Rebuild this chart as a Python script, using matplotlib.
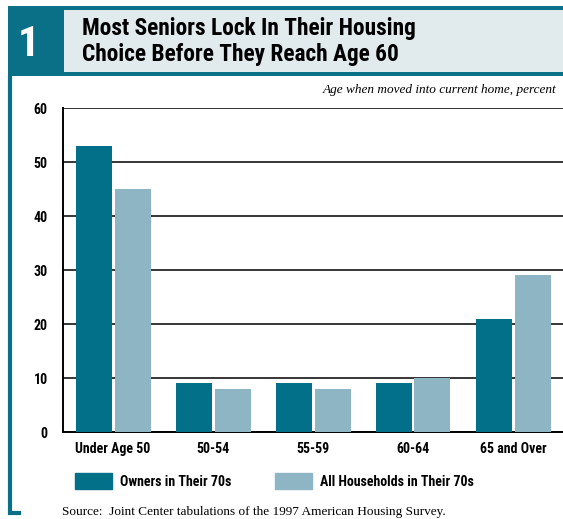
import numpy as np
import matplotlib.pyplot as plt
from matplotlib.patches import Rectangle, Patch
from matplotlib.lines import Line2D

categories = ["Under Age 50", "50-54", "55-59", "60-64", "65 and Over"]
owners_70s = [53, 9, 9, 9, 21]
all_hh_70s = [45, 8, 8, 10, 29]
series_names = ["Owners in Their 70s", "All Households in Their 70s"]
y_ticks = [0, 10, 20, 30, 40, 50, 60]

dark = "#03708A"
light = "#8DB5C3"
teal = "#0A7088"
cond = ["Roboto Condensed", "Liberation Sans Narrow", "Roboto", "DejaVu Sans"]
serif = ["Liberation Serif", "DejaVu Serif"]

fig = plt.figure(figsize=(5.63, 5.19), dpi=100)
W, H = 563.0, 519.0

def fx(px):
    return px / W

def fy(py):
    return 1 - py / H

# header frame
fig.add_artist(Rectangle((fx(8), fy(76)), fx(56), 70 / H, color=teal, lw=0, transform=fig.transFigure))
fig.add_artist(Rectangle((fx(64), fy(76)), fx(499), 70 / H, color=teal, lw=0, transform=fig.transFigure))
fig.add_artist(Rectangle((fx(64), fy(72)), fx(499), 62 / H, color="#E1EBED", lw=0, transform=fig.transFigure))
fig.add_artist(Line2D([fx(10), fx(10), fx(19)], [fy(76), fy(512.5), fy(512.5)], color=teal, lw=3,
                      solid_joinstyle="miter", transform=fig.transFigure))
fig.text(fx(29), fy(44), "1", color="white", fontsize=31, fontweight="bold", family=cond,
         ha="center", va="center")
fig.text(fx(82), fy(28), "Most Seniors Lock In Their Housing", fontsize=16.8, fontweight="heavy",
         family=cond, ha="left", va="center")
fig.text(fx(82), fy(55), "Choice Before They Reach Age 60", fontsize=16.8, fontweight="heavy",
         family=cond, ha="left", va="center")
fig.text(fx(556), fy(90), "Age when moved into current home, percent", fontsize=9.5,
         style="italic", family=serif, ha="right", va="center")

ax = fig.add_axes([fx(63), fy(432), fx(500), 324 / H])
x = np.arange(len(categories))
w = 0.36
ax.bar(x - 0.195, owners_70s, w, color=dark, zorder=3)
ax.bar(x + 0.195, all_hh_70s, w, color=light, zorder=3)
ax.set_xlim(-0.5, 4.5)
ax.set_ylim(0, 60)
ax.set_yticks(y_ticks)
ax.set_xticks(x)
ax.set_xticklabels(categories)
ax.yaxis.grid(True, color="black", lw=1.1, zorder=0)
ax.set_axisbelow(True)
for s in ["top", "right"]:
    ax.spines[s].set_visible(False)
for s in ["left", "bottom"]:
    ax.spines[s].set_linewidth(1.4)
ax.tick_params(length=0, pad=7)
for lab in ax.get_xticklabels() + ax.get_yticklabels():
    lab.set_family(cond)
    lab.set_fontweight("bold")
    lab.set_fontsize(10)
ax.tick_params(axis="y", pad=11)

handles = [Patch(color=dark), Patch(color=light)]
fig.legend(handles, series_names, loc="center left", bbox_to_anchor=(fx(62), fy(481)), ncol=2,
           frameon=False, handlelength=2.7, handleheight=1.35, handletextpad=0.55,
           columnspacing=3.15, prop={"family": cond, "weight": "bold", "size": 10})

fig.text(fx(62), fy(512), "Source:  Joint Center tabulations of the 1997 American Housing Survey.",
         fontsize=9.5, family=serif, ha="left", va="center")

plt.savefig("out.png", dpi=100)
